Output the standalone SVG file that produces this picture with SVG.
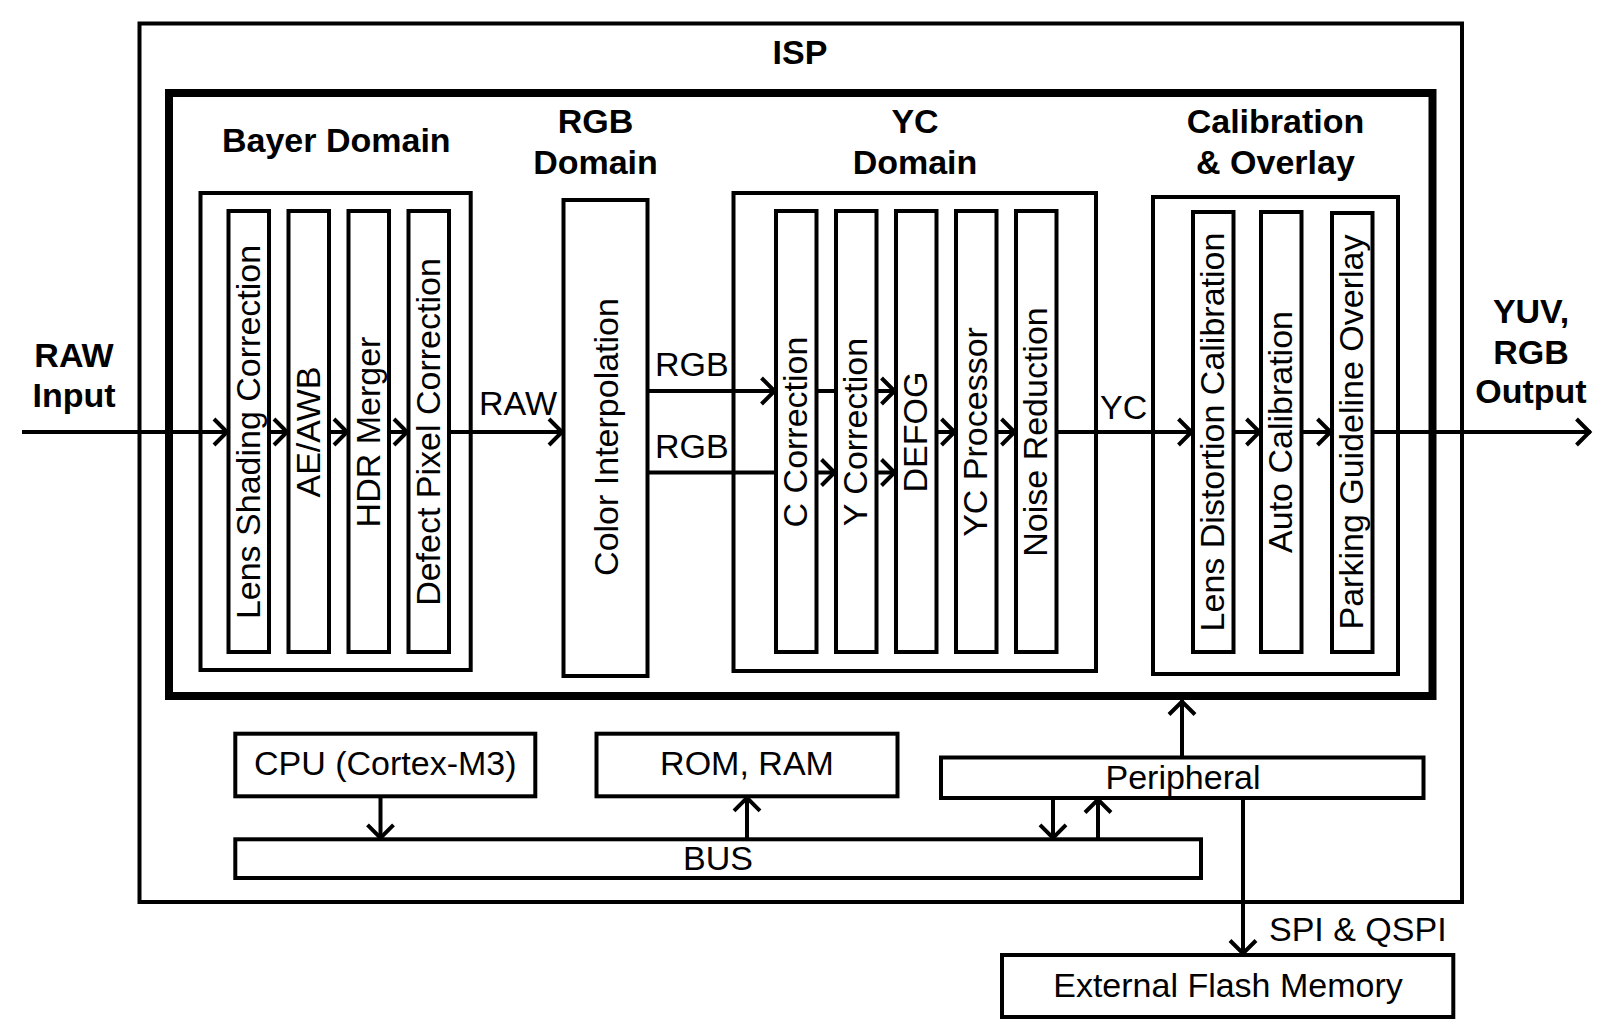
<svg xmlns="http://www.w3.org/2000/svg" width="1607" height="1036" viewBox="0 0 1607 1036">
<style>
.box{fill:none;stroke:#000;stroke-width:4}
.blk{fill:#fff;stroke:#000;stroke-width:4}
.thick{fill:none;stroke:#000;stroke-width:8}
.t{font-family:"Liberation Sans",Arial,sans-serif;font-size:34px;fill:#000}
.b{font-family:"Liberation Sans",Arial,sans-serif;font-size:34px;font-weight:bold;fill:#000}
.v{font-family:"Liberation Sans",Arial,sans-serif;font-size:34px;fill:#000;text-anchor:middle}
.m{text-anchor:middle}
.c{fill:none;stroke:#000;stroke-width:4}
</style>
<defs>
<marker id="ah" markerUnits="userSpaceOnUse" markerWidth="24" markerHeight="32" viewBox="-18 -16 24 32" refX="0" refY="0" orient="auto" overflow="visible">
<path d="M-14.5,-13 L-1.5,0 L-14.5,13" fill="none" stroke="#000" stroke-width="4"/>
</marker>
</defs>
<rect width="1607" height="1036" fill="#fff"/>

<g id="isp">
<rect class="box" x="139.5" y="23.5" width="1322.5" height="878.5"/>
<text class="b m" x="800" y="64">ISP</text>
</g>
<g id="pipeline">
<rect class="thick" x="169" y="93" width="1263.5" height="603"/>
</g>

<g id="bayer-domain">
<rect class="box" x="200.5" y="193" width="270.2" height="477"/>
<text class="b m" x="336.3" y="151.7">Bayer Domain</text>
</g>
<g id="lens-shading"><rect class="blk" x="228.5" y="211" width="40.5" height="441"/><text class="v" transform="translate(259.5,432) rotate(-90)">Lens Shading Correction</text></g>
<g id="ae-awb"><rect class="blk" x="288.5" y="211" width="40.5" height="441"/><text class="v" transform="translate(319.5,432) rotate(-90)">AE/AWB</text></g>
<g id="hdr-merger"><rect class="blk" x="348.5" y="211" width="40.5" height="441"/><text class="v" transform="translate(379.5,432) rotate(-90)">HDR Merger</text></g>
<g id="defect-pixel"><rect class="blk" x="408.5" y="211" width="40.5" height="441"/><text class="v" transform="translate(439.5,432) rotate(-90)">Defect Pixel Correction</text></g>

<g id="rgb-domain">
<text class="b m" x="595.5" y="133.3">RGB</text>
<text class="b m" x="595.5" y="174">Domain</text>
</g>
<g id="color-interp"><rect class="blk" x="563.5" y="200" width="84" height="476"/><text class="v" transform="translate(617.5,437) rotate(-90)">Color Interpolation</text></g>

<g id="yc-domain">
<rect class="box" x="733.5" y="193" width="362.5" height="478"/>
<text class="b m" x="915" y="133.3">YC</text>
<text class="b m" x="915" y="174">Domain</text>
</g>
<g id="c-correction"><rect class="blk" x="776" y="211" width="40.5" height="441"/><text class="v" transform="translate(807,432) rotate(-90)">C Correction</text></g>
<g id="y-correction"><rect class="blk" x="836" y="211" width="40.5" height="441"/><text class="v" transform="translate(867,432) rotate(-90)">Y Correction</text></g>
<g id="defog"><rect class="blk" x="896" y="211" width="40.5" height="441"/><text class="v" transform="translate(927,432) rotate(-90)">DEFOG</text></g>
<g id="yc-processor"><rect class="blk" x="956" y="211" width="40.5" height="441"/><text class="v" transform="translate(987,432) rotate(-90)">YC Processor</text></g>
<g id="noise-reduction"><rect class="blk" x="1016" y="211" width="40.5" height="441"/><text class="v" transform="translate(1047,432) rotate(-90)">Noise Reduction</text></g>

<g id="calibration">
<rect class="box" x="1153" y="197" width="245" height="477"/>
<text class="b m" x="1275.5" y="133.3">Calibration</text>
<text class="b m" x="1275.5" y="174">&amp; Overlay</text>
</g>
<g id="lens-distortion"><rect class="blk" x="1193" y="212" width="40.5" height="440"/><text class="v" transform="translate(1224,432) rotate(-90)">Lens Distortion Calibration</text></g>
<g id="auto-calibration"><rect class="blk" x="1261" y="212" width="40.5" height="440"/><text class="v" transform="translate(1292,432) rotate(-90)">Auto Calibration</text></g>
<g id="parking-overlay"><rect class="blk" x="1332" y="213" width="40.5" height="439"/><text class="v" transform="translate(1363,432) rotate(-90)">Parking Guideline Overlay</text></g>

<g id="raw-input">
<text class="b m" x="74" y="366.7">RAW</text>
<text class="b m" x="74" y="407">Input</text>
</g>
<g id="output">
<text class="b m" x="1531" y="323.3">YUV,</text>
<text class="b m" x="1531" y="364">RGB</text>
<text class="b m" x="1531" y="403">Output</text>
</g>

<g id="cpu"><rect class="blk" x="235.3" y="733.7" width="300" height="62.6"/><text class="t m" x="385.3" y="774.5">CPU (Cortex-M3)</text></g>
<g id="rom-ram"><rect class="blk" x="596.5" y="733.7" width="301" height="62.6"/><text class="t m" x="747" y="774.5">ROM, RAM</text></g>
<g id="bus"><rect class="blk" x="235.3" y="839.3" width="965.7" height="38.7"/><text class="t m" x="718" y="869.5">BUS</text></g>
<g id="peripheral"><rect class="blk" x="941" y="757.5" width="482.5" height="40.5"/><text class="t m" x="1183" y="788.5">Peripheral</text></g>
<g id="flash"><rect class="blk" x="1002" y="955" width="451.3" height="62"/><text class="t m" x="1228" y="997">External Flash Memory</text></g>

<g id="connectors">
<path class="c" d="M22,432 H228.5" marker-end="url(#ah)"/>
<path class="c" d="M269,432 H288.5" marker-end="url(#ah)"/>
<path class="c" d="M329,432 H348.5" marker-end="url(#ah)"/>
<path class="c" d="M389,432 H408.5" marker-end="url(#ah)"/>
<path class="c" d="M449,432 H563.5" marker-end="url(#ah)"/>
<path class="c" d="M647.5,391 H776" marker-end="url(#ah)"/>
<path class="c" d="M647.5,472.5 H776"/>
<path class="c" d="M816.5,391 H836"/>
<path class="c" d="M816.5,472.5 H836" marker-end="url(#ah)"/>
<path class="c" d="M876.5,391 H896" marker-end="url(#ah)"/>
<path class="c" d="M876.5,472.5 H896" marker-end="url(#ah)"/>
<path class="c" d="M936.5,432 H956" marker-end="url(#ah)"/>
<path class="c" d="M996.5,432 H1016" marker-end="url(#ah)"/>
<path class="c" d="M1056.5,432 H1193" marker-end="url(#ah)"/>
<path class="c" d="M1233.5,432 H1261" marker-end="url(#ah)"/>
<path class="c" d="M1301.5,432 H1332" marker-end="url(#ah)"/>
<path class="c" d="M1372.5,432 H1591" marker-end="url(#ah)"/>
<path class="c" d="M380.5,796.3 V839.3" marker-end="url(#ah)"/>
<path class="c" d="M747,839.3 V796.3" marker-end="url(#ah)"/>
<path class="c" d="M1053,798 V839.3" marker-end="url(#ah)"/>
<path class="c" d="M1098,839.3 V798" marker-end="url(#ah)"/>
<path class="c" d="M1182,757.5 V700" marker-end="url(#ah)"/>
<path class="c" d="M1243,798 V955" marker-end="url(#ah)"/>
<text class="t" x="479" y="415">RAW</text>
<text class="t" x="655" y="375.7">RGB</text>
<text class="t" x="655" y="458.3">RGB</text>
<text class="t" x="1100" y="418.5">YC</text>
<text class="t" x="1269" y="940.7">SPI &amp; QSPI</text>
</g>
</svg>
